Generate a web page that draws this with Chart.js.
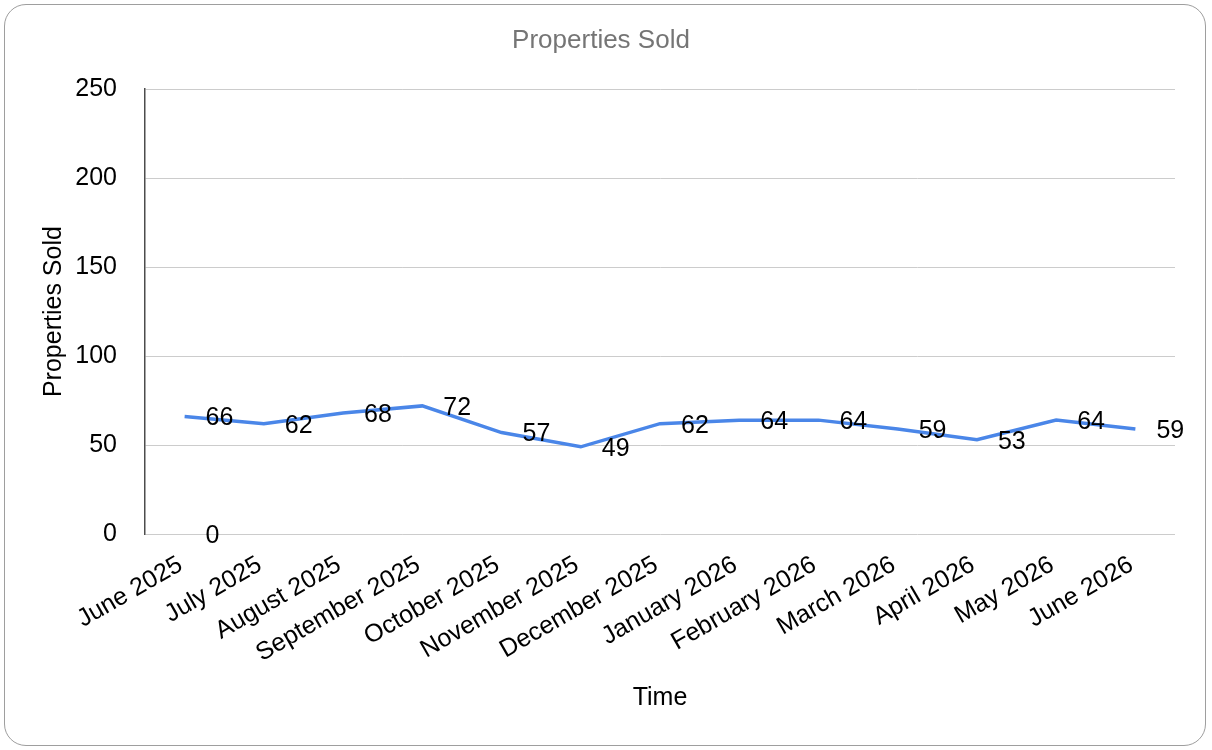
<!DOCTYPE html>
<html>
<head>
<meta charset="utf-8">
<script src="https://cdn.jsdelivr.net/npm/chart.js@4.4.1/dist/chart.umd.min.js"></script>
<style>
  html, body { margin: 0; padding: 0; background: #ffffff; }
  #wrap { position: relative; width: 1212px; height: 750px; overflow: hidden; }
  #card { position: absolute; left: 4px; top: 4px; width: 1200px; height: 740px;
          border: 1.5px solid #9e9e9e; border-radius: 22px; background: #ffffff; }
  #c { position: absolute; left: 0; top: 0; }
</style>
</head>
<body>
<div id="wrap">
  <div id="card"></div>
  <canvas id="c" width="1212" height="750"></canvas>
</div>
<script>
const categories = ["June 2025", "July 2025", "August 2025", "September 2025", "October 2025",
  "November 2025", "December 2025", "January 2026", "February 2026", "March 2026",
  "April 2026", "May 2026", "June 2026"];
const propertiesSold = [66, 62, 68, 72, 57, 49, 62, 64, 64, 59, 53, 64, 59];
const zeroSeries = [0, null, null, null, null, null, null, null, null, null, null, null, null];
const yTicks = [0, 50, 100, 150, 200, 250];

const FONT = "'Liberation Sans', Arial, Helvetica, sans-serif";

const dataLabelPlugin = {
  id: 'dataLabels',
  afterDatasetsDraw(chart) {
    const ctx = chart.ctx;
    ctx.save();
    ctx.font = "25px " + FONT;
    ctx.fillStyle = "#000000";
    ctx.textAlign = "left";
    ctx.textBaseline = "middle";
    chart.data.datasets.forEach((ds, i) => {
      const meta = chart.getDatasetMeta(i);
      meta.data.forEach((el, j) => {
        const v = ds.data[j];
        if (v === null || v === undefined) return;
        ctx.fillText(String(v), el.x + 21, el.y + 2);
      });
    });
    ctx.restore();
  }
};

new Chart(document.getElementById('c'), {
  type: 'line',
  data: {
    labels: categories,
    datasets: [
      {
        label: 'Properties Sold',
        data: propertiesSold,
        borderColor: '#4a86e8',
        backgroundColor: '#4a86e8',
        borderWidth: 3.5,
        pointRadius: 0,
        pointHoverRadius: 0,
        tension: 0,
        fill: false
      },
      {
        label: 'zero',
        data: zeroSeries,
        showLine: false,
        pointRadius: 0,
        borderColor: 'rgba(0,0,0,0)',
        backgroundColor: 'rgba(0,0,0,0)'
      }
    ]
  },
  options: {
    responsive: false,
    animation: false,
    layout: { padding: { left: 27, right: 37, top: 0, bottom: 0 } },
    plugins: {
      legend: { display: false },
      tooltip: { enabled: false },
      title: {
        display: true,
        text: 'Properties Sold',
        color: '#757575',
        font: { family: FONT, size: 26, weight: 'normal' },
        padding: { top: 25, bottom: 33 }
      }
    },
    scales: {
      x: {
        offset: true,
        grid: { display: false, drawTicks: false },
        border: { display: false },
        ticks: {
          color: '#000000',
          font: { family: FONT, size: 25 },
          minRotation: 30,
          maxRotation: 30,
          autoSkip: false,
          padding: 16,
          labelOffset: -4
        },
        title: {
          display: true,
          text: 'Time',
          color: '#000000',
          font: { family: FONT, size: 25 },
          padding: { top: 0, bottom: 37 }
        },
        afterFit(scale) { scale.height = 216; }
      },
      y: {
        min: 0,
        max: 250,
        afterBuildTicks(scale) { scale.ticks = yTicks.map(v => ({ value: v })); },
        grid: { color: '#cccccc', lineWidth: 1, drawTicks: false },
        border: { display: true, color: '#4d4d4d', width: 1.5 },
        ticks: {
          color: '#000000',
          font: { family: FONT, size: 25 },
          padding: 28
        },
        title: {
          display: true,
          text: 'Properties Sold',
          color: '#000000',
          font: { family: FONT, size: 25 },
          padding: { top: 12, bottom: 0 }
        },
        afterFit(scale) { scale.width = 118; }
      }
    }
  },
  plugins: [dataLabelPlugin]
});
</script>
</body>
</html>
